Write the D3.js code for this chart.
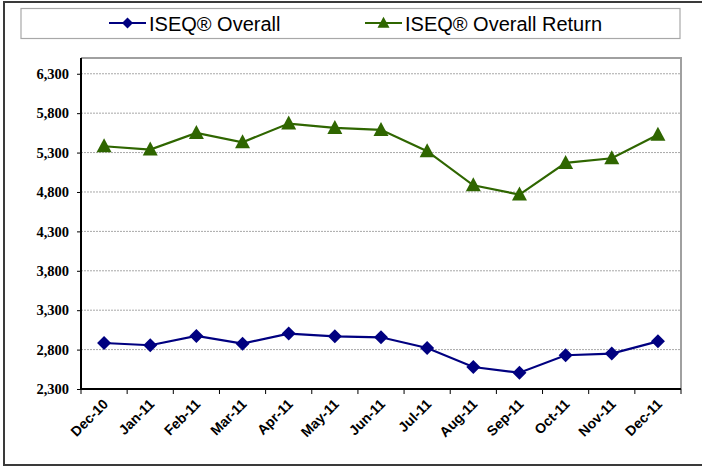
<!DOCTYPE html>
<html>
<head>
<meta charset="utf-8">
<script src="https://cdn.jsdelivr.net/npm/d3@7"></script>
<style>
  body{margin:0;background:#fff;}
  svg{display:block;}
</style>
</head>
<body>
<svg id="chart" width="702" height="466"></svg>
<script>
var months=["Dec-10","Jan-11","Feb-11","Mar-11","Apr-11","May-11","Jun-11","Jul-11","Aug-11","Sep-11","Oct-11","Nov-11","Dec-11"];
var overall=[2884,2855,2973,2875,3003,2969,2956,2821,2579,2507,2728,2749,2905];
var overallReturn=[5380,5338,5550,5431,5668,5613,5588,5317,4885,4767,5169,5228,5525];
var yTicks=[2300,2800,3300,3800,4300,4800,5300,5800,6300];

var svg=d3.select("#chart");
var plot={left:81,top:58,right:681,bottom:389};

// outer frame (only left, top and bottom edges are visible)
svg.append("path").attr("d","M702,2H4V465H702").attr("fill","none").attr("stroke","#3a3a3a").attr("stroke-width",2);

// legend box
var leg=svg.append("g");
leg.append("rect").attr("x",21).attr("y",8.5).attr("width",659).attr("height",30)
   .attr("fill","#fff").attr("stroke","#a8a8a8").attr("stroke-width",1.2);

var diamond=function(r){return "M0,"+(-r)+"L"+r+",0L0,"+r+"L"+(-r)+",0Z";};
var triangle=function(w,h){return "M0,"+(-h*0.57)+"L"+(w/2)+","+(h*0.43)+"L"+(-w/2)+","+(h*0.43)+"Z";};

var series=[
  {name:"ISEQ\u00AE Overall",vals:overall,color:"#000080",shape:"diamond",lx:109},
  {name:"ISEQ\u00AE Overall Return",vals:overallReturn,color:"#2f6600",shape:"triangle",lx:365}
];

series.forEach(function(s){
  var g=leg.append("g").attr("transform","translate("+s.lx+",23)");
  g.append("line").attr("x1",0).attr("x2",37).attr("stroke",s.color).attr("stroke-width",2);
  g.append("path").attr("transform","translate(18.5,0)")
   .attr("d",s.shape==="diamond"?diamond(5.5):triangle(12,11)).attr("fill",s.color);
  g.append("text").attr("x",40).attr("y",7.5).text(s.name)
   .attr("font-family","Liberation Sans, Arial, sans-serif").attr("font-size",20).attr("fill","#000");
});

var x=d3.scaleBand().domain(months).range([plot.left,plot.right]);
var y=d3.scaleLinear().domain([2300,6500]).range([plot.bottom,plot.top]);

// plot area border (gray top/right)
svg.append("path").attr("d","M"+plot.left+","+plot.top+"H"+plot.right+"V"+plot.bottom)
   .attr("fill","none").attr("stroke","#a0a0a0").attr("stroke-width",2);

// gridlines
svg.append("g").selectAll("line").data(yTicks.slice(1)).enter().append("line")
   .attr("x1",plot.left).attr("x2",plot.right)
   .attr("y1",function(d){return y(d);}).attr("y2",function(d){return y(d);})
   .attr("stroke","#a8a8a8").attr("stroke-width",1).attr("stroke-dasharray","2,1");

// y axis
var yAxis=svg.append("g").attr("transform","translate("+plot.left+",0)")
   .call(d3.axisLeft(y).tickValues(yTicks).tickSize(4).tickPadding(8).tickFormat(d3.format(",")));
yAxis.select(".domain").attr("stroke","#000").attr("stroke-width",2).attr("d","M0,"+plot.top+"V"+plot.bottom);
yAxis.selectAll("text").attr("font-family","Liberation Serif, Times New Roman, serif")
   .attr("font-weight","bold").attr("font-size",14.5).attr("fill","#000");

// x axis
var bounds=months.map(function(m){return x(m);}).concat([plot.right]);
var xAxis=svg.append("g").attr("transform","translate(0,"+plot.bottom+")");
xAxis.append("line").attr("x1",plot.left-1).attr("x2",plot.right).attr("stroke","#000").attr("stroke-width",2);
xAxis.selectAll(".tk").data(bounds).enter().append("line").attr("class","tk")
   .attr("x1",function(d){return d;}).attr("x2",function(d){return d;})
   .attr("y1",0).attr("y2",5).attr("stroke","#000").attr("stroke-width",1);
xAxis.selectAll(".lb").data(months).enter().append("text").attr("class","lb")
   .attr("transform",function(d){return "translate("+(x(d)+x.bandwidth()/2+5)+",16) rotate(-45)";})
   .attr("text-anchor","end").text(function(d){return d;})
   .attr("font-family","Liberation Sans, Arial, sans-serif").attr("font-weight","bold")
   .attr("font-size",14).attr("fill","#000");

// series
var line=d3.line().x(function(d,i){return x(months[i])+x.bandwidth()/2;}).y(function(d){return y(d);});
series.forEach(function(s){
  var g=svg.append("g");
  g.append("path").datum(s.vals).attr("d",line).attr("fill","none")
   .attr("stroke",s.color).attr("stroke-width",2.2);
  g.selectAll("path.m").data(s.vals).enter().append("path").attr("class","m")
   .attr("transform",function(d,i){return "translate("+(x(months[i])+x.bandwidth()/2)+","+y(d)+")";})
   .attr("d",s.shape==="diamond"?diamond(7):triangle(15,14)).attr("fill",s.color);
});
</script>
</body>
</html>
